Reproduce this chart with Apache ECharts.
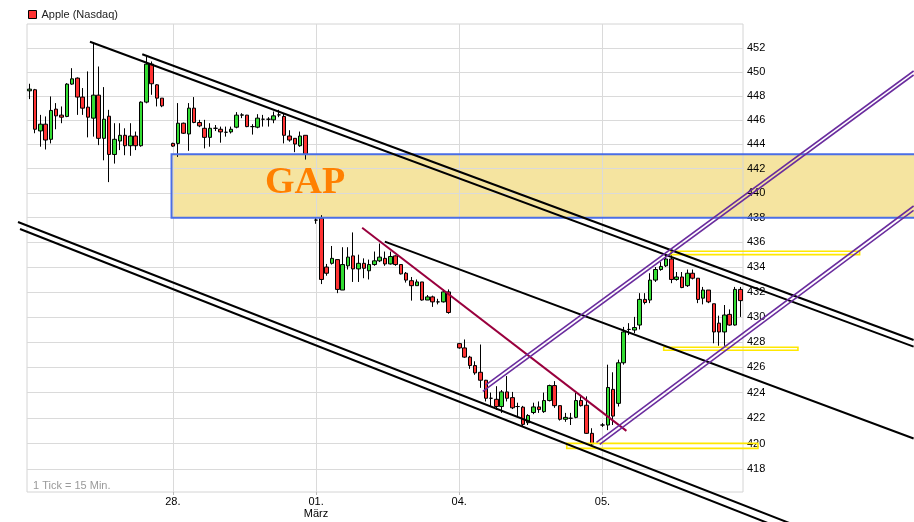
<!DOCTYPE html>
<html>
<head>
<meta charset="utf-8">
<script src="https://cdn.jsdelivr.net/npm/echarts@6.0.0/dist/echarts.min.js"></script>
<style>
html,body{margin:0;padding:0;background:#fff;}
#chart{width:914px;height:522px;}
</style>
</head>
<body>
<div id="chart"></div>
<script>
// ---------- DATA ----------
const seriesName = 'Apple (Nasdaq)';
const dayNames = ['27.02.', '28.02.', '01.03.', '04.03.', '05.03.'];
const slotsPerDay = 27;
const dayStartSlots = [27, 54, 81, 108];
const dayLabels = ['28.', '01.\nMärz', '04.', '05.'];
const yTicks = [418, 420, 422, 424, 426, 428, 430, 432, 434, 436, 438, 440, 442, 444, 446, 448, 450, 452];

const opens = [
  448.44, 448.53, 445.11, 445.67, 444.42, 446.92, 446.42, 446.31, 449.0, 449.5, 447.92, 447.08, 446.17, 448.08, 444.5, 446.33, 443.17, 444.28, 444.75, 443.89, 444.69, 443.89, 447.5, 450.67, 448.94, 447.83, null,
  444.08, 444.08, 445.75, 444.86, 447.0, 445.81, 445.33, 444.58, 445.33, 445.25, 445.0, 445.03, 445.42, 446.42, 446.42, 445.47, 445.42, 446.08, 446.08, 446.03, 446.44, 446.31, 444.69, 444.5, 443.89, 444.75, null,
  437.8, 437.95, 434.0, 434.3, 434.6, 432.15, 434.1, 434.9, 433.85, 434.3, 433.7, 434.2, 434.5, 434.7, 434.25, 434.9, 434.2, 433.5, 432.9, 432.5, 432.8, 431.35, 431.6, 431.2, 431.2, 432.0, null,
  427.87, 427.53, 426.8, 426.13, 425.6, 424.97, 423.55, 423.47, 422.9, 424.05, 423.6, 422.9, 422.85, 421.63, 422.43, 422.87, 422.5, 423.37, 424.55, 422.97, 421.9, 421.98, 422.05, 423.37, 423.0, 420.8, null,
  421.45, 421.45, 424.25, 423.15, 426.35, 429.0, 428.95, 429.35, 431.4, 431.35, 432.95, 433.8, 434.1, 434.65, 433.0, 433.2, 432.5, 433.5, 433.1, 431.5, 432.15, 431.05, 429.5, 428.8, 430.2, 429.35, 432.2
];
const closes = [
  448.58, 445.25, 445.67, 444.36, 446.81, 446.36, 446.25, 449.0, 449.44, 447.92, 447.0, 446.25, 448.08, 444.5, 446.08, 443.17, 444.42, 444.75, 443.89, 444.69, 443.89, 447.5, 450.67, 449.03, 447.83, 447.19, null,
  443.86, 445.75, 444.92, 447.0, 445.81, 445.53, 444.58, 445.33, 445.33, 445.03, 445.0, 445.25, 446.42, 446.44, 445.47, 445.47, 446.17, 446.08, 446.08, 446.36, 446.44, 444.75, 444.36, 444.03, 444.69, 443.19, null,
  437.8, 433.0, 433.5, 434.7, 432.2, 434.2, 434.8, 433.85, 434.3, 433.9, 434.2, 434.5, 434.8, 434.25, 434.85, 434.2, 433.45, 432.95, 432.5, 432.8, 431.35, 431.6, 431.2, 431.2, 432.0, 430.35, null,
  427.53, 426.8, 426.13, 425.55, 424.97, 423.55, 423.55, 422.9, 424.05, 423.55, 422.8, 422.9, 421.5, 422.2, 422.87, 422.66, 423.37, 424.55, 422.97, 421.9, 422.05, 421.98, 423.37, 422.97, 420.8, 419.97, null,
  421.45, 424.4, 422.15, 426.35, 428.8, 429.0, 429.15, 431.4, 431.15, 432.95, 433.8, 434.05, 434.65, 433.0, 433.2, 432.35, 433.5, 433.1, 431.4, 432.15, 431.2, 428.8, 428.8, 430.15, 429.35, 432.2, 431.3
];
const lows = [
  447.75, 444.92, 443.81, 443.58, 444.08, 445.25, 445.75, 446.25, 448.94, 446.44, 446.44, 444.58, 444.64, 443.94, 442.69, 440.9, 442.42, 443.53, 443.11, 443.06, 443.53, 443.81, 447.4, 448.11, 447.14, 447.08, null,
  443.8, 442.97, 444.86, 443.47, 445.75, 445.42, 443.67, 443.81, 445.1, 444.14, 444.64, 444.9, 445.33, 446.17, 445.42, 444.81, 445.33, 445.47, 445.47, 445.75, 446.25, 444.08, 444.22, 443.36, 443.8, 442.75, null,
  437.5, 432.63, 433.3, 434.2, 431.9, 432.15, 433.8, 432.8, 432.8, 433.1, 433.0, 434.1, 434.4, 434.1, 434.2, 434.1, 433.4, 432.75, 431.3, 432.5, 431.3, 431.35, 430.8, 431.0, 431.15, 430.25, null,
  427.47, 426.74, 425.87, 425.4, 424.37, 423.3, 422.9, 422.63, 422.4, 423.3, 422.7, 422.1, 421.35, 421.45, 422.3, 422.4, 422.4, 423.3, 422.8, 421.8, 421.7, 421.45, 421.98, 422.9, 420.75, 419.9, null,
  421.3, 421.05, 421.45, 422.9, 426.2, 428.55, 428.7, 429.0, 431.0, 431.1, 432.8, 433.7, 434.0, 432.7, 432.9, 432.3, 432.4, 433.0, 431.1, 431.0, 431.1, 427.9, 427.7, 427.7, 429.3, 429.3, 430.0
];
const highs = [
  449.03, 448.6, 446.44, 446.31, 447.97, 447.42, 447.14, 449.08, 450.33, 449.56, 448.67, 450.06, 452.47, 450.47, 448.75, 446.86, 445.75, 445.75, 445.33, 445.75, 445.06, 447.56, 451.31, 450.89, 449.0, 447.83, null,
  444.14, 447.42, 445.8, 447.42, 447.92, 446.03, 446.03, 445.75, 445.6, 445.47, 445.47, 445.47, 446.67, 446.58, 446.44, 445.67, 446.5, 446.44, 446.25, 446.72, 446.86, 446.58, 445.17, 444.5, 445.06, 444.75, null,
  438.05, 438.2, 434.25, 435.7, 434.6, 435.6, 435.6, 436.8, 435.0, 434.7, 434.6, 435.25, 435.9, 435.25, 435.25, 434.95, 434.2, 433.6, 433.2, 433.0, 432.8, 431.75, 431.7, 431.45, 432.2, 432.2, null,
  427.93, 428.2, 426.9, 426.47, 427.8, 425.0, 424.0, 424.5, 424.2, 425.3, 424.05, 423.2, 422.95, 422.3, 423.2, 423.3, 424.0, 424.62, 424.9, 422.97, 422.4, 422.4, 423.97, 423.7, 423.7, 421.2, null,
  421.6, 426.2, 425.6, 426.6, 429.2, 429.5, 430.0, 431.9, 431.9, 433.5, 434.0, 434.4, 435.1, 435.3, 433.6, 433.6, 433.8, 433.8, 433.1, 432.4, 432.15, 431.05, 430.1, 430.95, 430.6, 432.4, 432.4
];

// drawn annotations, in (slot, price) data coordinates: [x1, y1, x2, y2]
const blackLines = [
  [11.37, 452.55, 166.67, 427.63],
  [21.23, 451.50, 166.67, 428.16],
  [-2.20, 437.65, 145.18, 413.54],
  [-1.82, 437.08, 141.42, 413.49],
  [66.97, 436.05, 166.67, 420.40]
];
const maroonLines = [
  [62.69, 437.18, 112.52, 420.99]
];
const purpleLines = [
  [86.01, 424.60, 166.67, 450.10],
  [85.44, 424.09, 166.67, 449.76],
  [106.87, 420.09, 166.67, 438.95],
  [107.49, 419.94, 166.67, 438.59]
];
const yellowBoxes = [
  [120.87, 435.27, 156.49, 435.00],
  [119.55, 427.58, 144.86, 427.34],
  [101.27, 420.02, 137.32, 419.63]
];
const gapBoxes = [
  [26.75, 443.19, 170, 438.0]
];
const gapText = 'GAP';
const tickNote = '1 Tick = 15 Min.';

// ---------- BUILD ----------
const categories = [];
dayNames.forEach(d => { for (let j = 0; j < slotsPerDay; j++) categories.push(d + ' ' + j); });
const candleData = opens.map((o, i) => o == null ? ['-', '-', '-', '-'] : [o, closes[i], lows[i], highs[i]]);

const FONT = 'Liberation Sans';
const GRID = '#dadada';

function rectItem(stroke, fill, lw) {
  return function (params, api) {
    const p1 = api.coord([api.value(0), api.value(1)]);
    const p2 = api.coord([api.value(2), api.value(3)]);
    return {
      type: 'rect',
      shape: { x: Math.min(p1[0], p2[0]), y: Math.min(p1[1], p2[1]), width: Math.abs(p2[0] - p1[0]), height: Math.abs(p2[1] - p1[1]) },
      style: { fill: fill, stroke: stroke, lineWidth: lw }
    };
  };
}
function segItem(color, width) {
  return function (params, api) {
    const p1 = api.coord([api.value(0), api.value(1)]);
    const p2 = api.coord([api.value(2), api.value(3)]);
    return {
      type: 'line',
      shape: { x1: p1[0], y1: p1[1], x2: p2[0], y2: p2[1] },
      style: { stroke: color, lineWidth: width, fill: null }
    };
  };
}
function segSeries(data, color, width) {
  return {
    type: 'custom', xAxisIndex: 1, yAxisIndex: 0, z: 5, silent: true, clip: false,
    encode: { x: [0, 2], y: [1, 3] }, data: data, renderItem: segItem(color, width)
  };
}

const chart = echarts.init(document.getElementById('chart'), null, { renderer: 'canvas' });
const option = {
  animation: false,
  backgroundColor: '#ffffff',
  textStyle: { fontFamily: FONT },
  legend: {
    left: 28, top: 9, padding: 0, itemWidth: 8, itemHeight: 8, icon: 'rect', selectedMode: false,
    textStyle: { fontSize: 11, color: '#222', fontFamily: FONT },
    data: [{ name: seriesName, itemStyle: { color: '#ff3333', borderColor: '#000', borderWidth: 1 } }]
  },
  grid: {
    left: 27, right: 171, top: 24, bottom: 30, show: true, borderColor: '#d4d4d4', borderWidth: 1,
    backgroundColor: 'transparent', containLabel: false, outerBoundsMode: 'none'
  },
  xAxis: [
    { type: 'category', data: categories, boundaryGap: true, show: false, position: 'bottom' },
    {
      type: 'value', min: -0.5, max: 134.5, position: 'bottom',
      axisLine: { show: false },
      axisTick: { show: true, customValues: dayStartSlots, length: 3, lineStyle: { color: '#bbbbbb' } },
      axisLabel: {
        customValues: dayStartSlots, fontSize: 11, color: '#000', margin: 4, lineHeight: 12, fontFamily: FONT,
        formatter: v => { const k = dayStartSlots.indexOf(Math.round(v)); return k >= 0 ? dayLabels[k] : ''; }
      },
      splitLine: { show: true, lineStyle: { color: GRID, width: 1 } }
    }
  ],
  yAxis: {
    type: 'log', logBase: 10, position: 'right', min: 416.24, max: 454.04, scale: true,
    axisLine: { show: false },
    axisTick: { show: false, customValues: yTicks },
    axisLabel: { customValues: yTicks, fontSize: 11, color: '#000', margin: 4, fontFamily: FONT, formatter: v => String(Math.round(v)) },
    splitLine: { show: true, lineStyle: { color: GRID, width: 1 } }
  },
  series: [
    {
      type: 'custom', xAxisIndex: 1, yAxisIndex: 0, z: -1, silent: true, clip: false,
      encode: { x: [0, 2], y: [1, 3] }, data: gapBoxes, renderItem: rectItem(null, '#f5e4a0', 0)
    },
    {
      type: 'custom', xAxisIndex: 1, yAxisIndex: 0, z: 3, silent: true, clip: false,
      encode: { x: [0, 2], y: [1, 3] }, data: gapBoxes, renderItem: rectItem('#4a6ee6', 'none', 2)
    },
    {
      name: seriesName, type: 'candlestick', xAxisIndex: 0, yAxisIndex: 0, data: candleData, z: 2,
      barWidth: 4, silent: true,
      itemStyle: { color: '#33dd33', color0: '#ff3333', borderColor: '#000', borderColor0: '#000', borderColorDoji: '#000', borderWidth: 1 },
      emphasis: { disabled: true }
    },
    {
      type: 'custom', xAxisIndex: 1, yAxisIndex: 0, z: 4, silent: true, clip: false,
      encode: { x: [0, 2], y: [1, 3] }, data: yellowBoxes, renderItem: rectItem('#ffe800', 'none', 1.6)
    },
    segSeries(blackLines, '#000000', 2),
    segSeries(maroonLines, '#99003d', 2),
    segSeries(purpleLines, '#6a2c9e', 1.6)
  ],
  graphic: [
    {
      type: 'text', x: 305, y: 183, z: 20, silent: true,
      style: { text: gapText, font: 'bold 38px "Liberation Serif"', fill: '#ff8000', textAlign: 'center', textVerticalAlign: 'middle', align: 'center', verticalAlign: 'middle' }
    },
    {
      type: 'text', x: 33, y: 486, z: 20, silent: true,
      style: { text: tickNote, font: '11px "Liberation Sans"', fill: '#9a9a9a', textVerticalAlign: 'middle', verticalAlign: 'middle' }
    }
  ]
};
chart.setOption(option);
</script>
</body>
</html>
